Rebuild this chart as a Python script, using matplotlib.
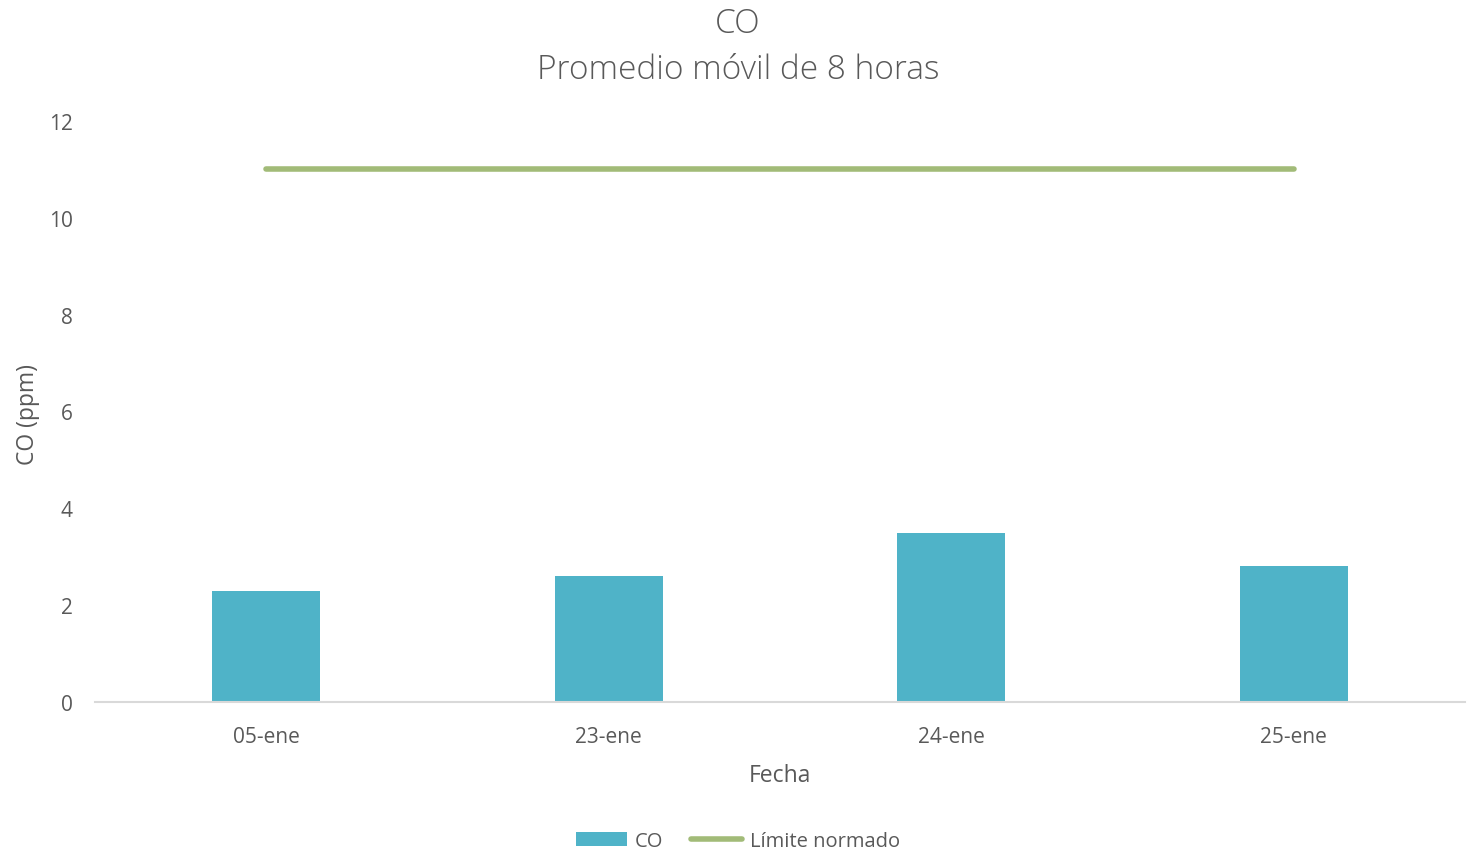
import matplotlib
matplotlib.use("Agg")
import matplotlib.pyplot as plt
import numpy as np

# datos
fechas = ['05-ene', '23-ene', '24-ene', '25-ene']
co_ppm = [2.3, 2.6, 3.5, 2.8]
limite = [11, 11, 11, 11]

plt.rcParams['font.family'] = ['Open Sans', 'DejaVu Sans']
gris = '#595959'

fig = plt.figure(figsize=(14.76, 8.54), dpi=100)
ax = fig.add_axes([95 / 1476, 1 - 703 / 854, 1370 / 1476, (703 - 122) / 854])

x = np.arange(len(fechas))
barras = ax.bar(x, co_ppm, width=0.315, color='#4FB3C8', label='CO', zorder=2)
linea, = ax.plot(x, limite, color='#A2BB78', linewidth=4, solid_capstyle='round',
                 label='Límite normado', zorder=3)

ax.set_xlim(-0.5, len(fechas) - 0.5)
ax.set_ylim(0, 12)
ax.set_yticks(np.arange(0, 13, 2))
ax.set_xticks(x)
ax.set_xticklabels(fechas)
ax.tick_params(axis='both', length=0, labelsize=15, colors=gris)
ax.tick_params(axis='y', pad=16)
ax.tick_params(axis='x', pad=17)

for s in ['top', 'right', 'left']:
    ax.spines[s].set_visible(False)
ax.spines['bottom'].set_color('#D9D9D9')
ax.spines['bottom'].set_linewidth(1.5)

ax.set_xlabel('Fecha', fontsize=16.5, color=gris, labelpad=12)
fig.text(28 / 1476, 1 - 415 / 854, 'CO (ppm)', rotation=90, ha='center', va='center',
         fontsize=16.5, color=gris)

fig.text(0.5, 1 - 24 / 854, 'CO', ha='center', va='center', fontsize=24,
         color=gris, fontweight='light')
fig.text(0.5, 1 - 70 / 854, 'Promedio móvil de 8 horas', ha='center', va='center',
         fontsize=24, color=gris, fontweight='light')

leg = fig.legend([barras, linea], ['CO', 'Límite normado'], loc='center',
                 bbox_to_anchor=(0.5, 1 - 842 / 854), ncol=2, borderpad=0,
                 frameon=False, fontsize=14.5, handlelength=2.5, handleheight=0.7,
                 columnspacing=1.4, handletextpad=0.4)
for t in leg.get_texts():
    t.set_color(gris)

fig.savefig('out.png', dpi=100)
